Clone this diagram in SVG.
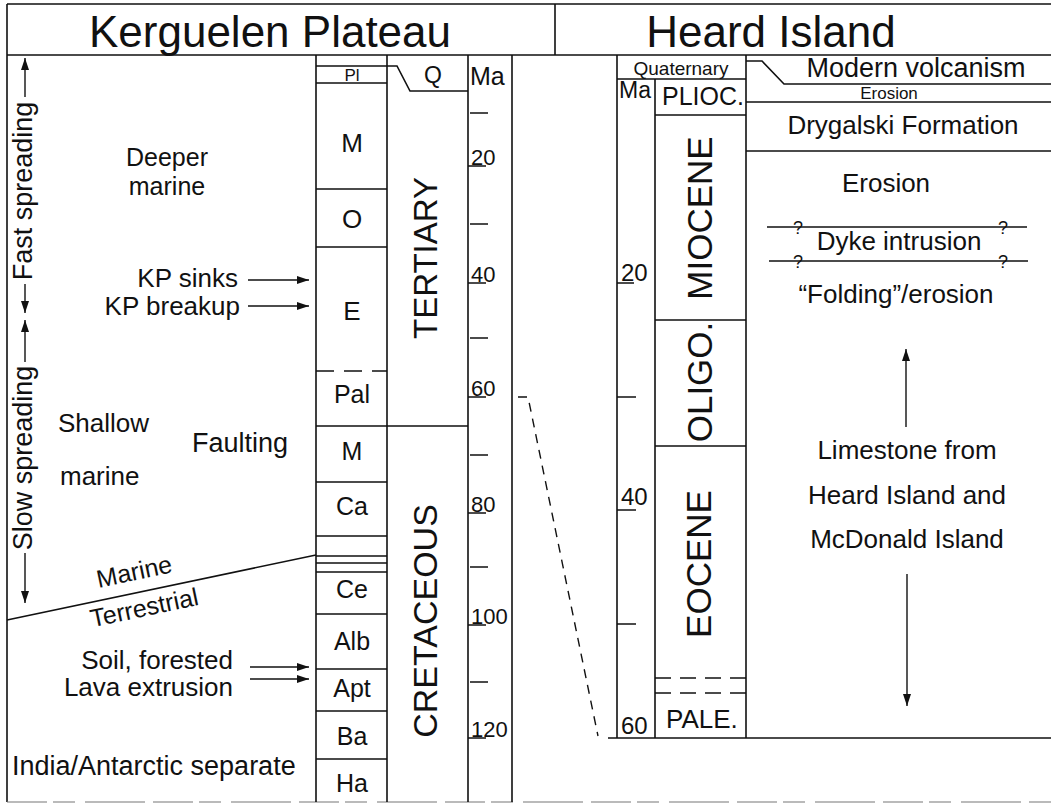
<svg xmlns="http://www.w3.org/2000/svg" width="1051" height="804" viewBox="0 0 1051 804">
<defs>
<style>
.ln{stroke:#111;stroke-width:1.6;fill:none}
.thin{stroke:#111;stroke-width:1.3;fill:none}
.dash{stroke:#111;stroke-width:1.6;fill:none;stroke-dasharray:18,10}
.dash2{stroke:#111;stroke-width:1.6;fill:none;stroke-dasharray:16,9}
.conn{stroke:#111;stroke-width:1.4;fill:none;stroke-dasharray:9,7}
.arr{stroke:#111;stroke-width:1.4;fill:none;marker-end:url(#ah)}
text{font-family:"Liberation Sans",Arial,Helvetica,sans-serif;fill:#111}
.t26{font-size:26px}
.t25{font-size:25px}
.hd{font-size:44px}
.mid{text-anchor:middle}
.end{text-anchor:end}
.ma{font-size:22px}
.ep{font-size:35px;text-anchor:middle}
</style>
<marker id="ah" markerWidth="12" markerHeight="8" refX="12" refY="4" orient="auto" markerUnits="userSpaceOnUse"><path d="M0,0 L12,4 L0,8 z" fill="#111"/></marker>
</defs>
<rect width="1051" height="804" fill="#fff"/>

<g id="header">
<path class="ln" d="M7,4 H1051 M7,55 H1051 M7,4 V802 M555,4 V55"/>
<text class="hd mid" x="270" y="47">Kerguelen Plateau</text>
<text class="hd mid" x="771" y="47">Heard Island</text>
<path d="M7,802 H1051" stroke="#777" stroke-width="1.2" stroke-dasharray="40,6,22,10,60,8"/>
</g>

<g id="kp-stages">
<path class="ln" d="M316,55 V802 M387,55 V802 M468,55 V802 M512,55 V802"/>
<path class="ln" d="M316,66 H397 L410,91 H468 M316,83 H387 M316,189 H387 M316,247 H387 M316,426 H468 M316,482 H387 M316,536 H387 M316,556 H387 M316,563 H387 M316,572 H387 M316,614 H387 M316,669 H387 M316,711 H387 M316,759 H387"/>
<path class="dash" d="M316,371 H387"/>
<text x="352" y="81" class="mid" font-size="17">Pl</text>
<text x="433" y="83" class="mid" font-size="23">Q</text>
<text x="352" y="152" class="t26 mid">M</text>
<text x="352" y="228" class="t26 mid">O</text>
<text x="352" y="320" class="t26 mid">E</text>
<text x="352" y="403" class="t25 mid">Pal</text>
<text x="352" y="460" class="t25 mid">M</text>
<text x="352" y="515" class="t25 mid">Ca</text>
<text x="352" y="598" class="t25 mid">Ce</text>
<text x="352" y="650" class="t25 mid">Alb</text>
<text x="352" y="697" class="t25 mid">Apt</text>
<text x="352" y="745" class="t25 mid">Ba</text>
<text x="352" y="792" class="t25 mid">Ha</text>
</g>

<g id="kp-periods">
<text class="mid" font-size="33" transform="translate(437,258) rotate(-90)">TERTIARY</text>
<text class="mid" font-size="34" transform="translate(437,621) rotate(-90)">CRETACEOUS</text>
</g>

<g id="kp-ma">
<text x="470" y="85" class="t25">Ma</text>
<path class="thin" d="M470,113 H488 M468,166 H486 M470,224 H488 M468,283 H486 M470,338 H488 M468,397 H486 M470,455 H488 M468,513 H486 M470,567 H488 M468,625 H486 M470,682 H488 M468,738 H486"/>
<text x="471" y="165" class="ma">20</text>
<text x="471" y="282" class="ma">40</text>
<text x="471" y="396" class="ma">60</text>
<text x="471" y="512" class="ma">80</text>
<text x="471" y="624" class="ma">100</text>
<text x="471" y="737" class="ma">120</text>
</g>

<g id="kp-events">
<text class="mid" font-size="27" transform="translate(32,191) rotate(-90)">Fast spreading</text>
<text class="mid" font-size="27" transform="translate(32,458) rotate(-90)">Slow spreading</text>
<text x="167" y="166" class="t25 mid">Deeper</text>
<text x="167" y="195" class="t25 mid">marine</text>
<text x="238" y="287" class="t26 end">KP sinks</text>
<text x="240" y="315" class="t26 end">KP breakup</text>
<text x="58" y="432" class="t26">Shallow</text>
<text x="192" y="452" font-size="27">Faulting</text>
<text x="60" y="485" class="t26">marine</text>
<path class="ln" d="M7,620 L316,555"/>
<text class="t25 mid" transform="translate(136,580) rotate(-11.9)">Marine</text>
<text class="t25 mid" transform="translate(146,616) rotate(-11.9)">Terrestrial</text>
<text x="233" y="669" class="t26 end">Soil, forested</text>
<text x="233" y="696" class="t26 end">Lava extrusion</text>
<text x="12" y="775" font-size="27">India/Antarctic separate</text>
</g>

<g id="hi-epochs">
<path class="ln" d="M617,55 V738 M655,79 V738 M746,55 V738 M617,79 H746 M655,115 H746 M655,320 H746 M655,446 H746 M608,738 H1051"/>
<path class="dash2" d="M655,678 H746 M655,693 H746"/>
<text x="681" y="75" class="mid" font-size="19">Quaternary</text>
<text x="619" y="98" font-size="23">Ma</text>
<text x="662" y="105" class="t25">PLIOC.</text>
<text class="ep" transform="translate(712,218) rotate(-90)">MIOCENE</text>
<text class="ep" transform="translate(712,382) rotate(-90)">OLIGO.</text>
<text class="ep" transform="translate(711,564) rotate(-90)">EOCENE</text>
<text x="666" y="728" class="t26">PALE.</text>
<path class="thin" d="M617,283 H634 M617,397 H636 M617,510 H636 M617,624 H636"/>
<text x="621" y="281" font-size="24">20</text>
<text x="621" y="505" font-size="24">40</text>
<text x="621" y="734" font-size="24">60</text>
</g>

<g id="hi-units">
<path class="ln" d="M746,61 H762 L784,84 H1051 M746,102 H1051 M746,151 H1051"/>
<text x="916" y="77" class="mid" font-size="27">Modern volcanism</text>
<text x="889" y="99" class="mid" font-size="17">Erosion</text>
<text x="903" y="134" class="t26 mid">Drygalski Formation</text>
<text x="886" y="192" class="t26 mid">Erosion</text>
<path class="thin" d="M767,227 H1027 M769,261 H1028"/>
<text x="798" y="234" class="mid" font-size="18">?</text>
<text x="1003" y="234" class="mid" font-size="18">?</text>
<text x="798" y="268" class="mid" font-size="18">?</text>
<text x="1003" y="268" class="mid" font-size="18">?</text>
<text x="899" y="250" class="t26 mid">Dyke intrusion</text>
<text x="896" y="303" class="t26 mid">“Folding”/erosion</text>
<text x="907" y="459" class="t26 mid">Limestone from</text>
<text x="907" y="504" class="t26 mid">Heard Island and</text>
<text x="907" y="548" class="t26 mid">McDonald Island</text>
</g>

<g id="connectors">
<line class="arr" x1="25" y1="97" x2="25" y2="58"/>
<line class="arr" x1="25" y1="284" x2="25" y2="313"/>
<line class="arr" x1="25" y1="362" x2="25" y2="320"/>
<line class="arr" x1="25" y1="553" x2="25" y2="603"/>
<line class="arr" x1="248" y1="280" x2="309" y2="280"/>
<line class="arr" x1="248" y1="306" x2="309" y2="306"/>
<line class="arr" x1="250" y1="667" x2="309" y2="667"/>
<line class="arr" x1="250" y1="679" x2="309" y2="679"/>
<line class="arr" x1="906" y1="427" x2="906" y2="349"/>
<line class="arr" x1="907" y1="574" x2="907" y2="706"/>
<path class="conn" d="M518,397 H528 L598,736"/>
</g>
</svg>
